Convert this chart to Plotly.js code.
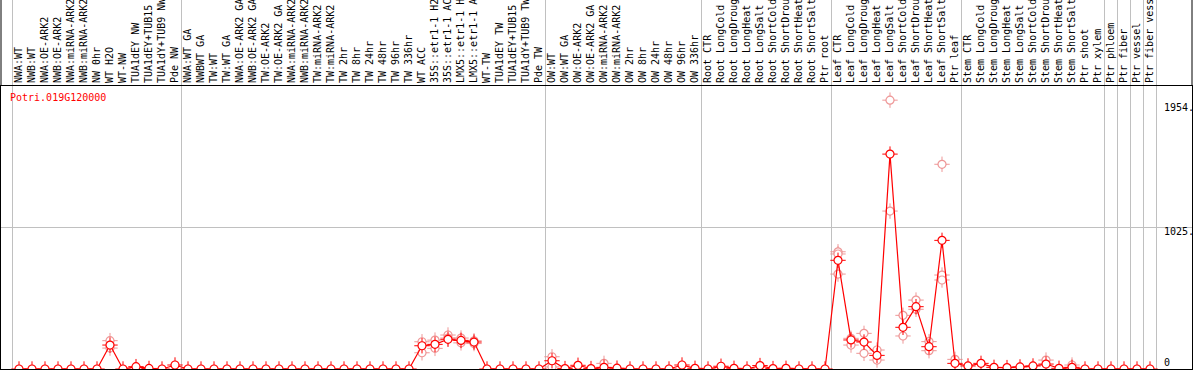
<!DOCTYPE html>
<html>
<head>
<meta charset="utf-8">
<script src="https://cdn.plot.ly/plotly-3.0.1.min.js"></script>
<style>
  html, body { margin: 0; padding: 0; background: #fff; }
  #chart { width: 1194px; height: 370px; }
</style>
</head>
<body>
<div id="chart"></div>
<script>
// ---- data ----
const geneId = "Potri.019G120000";

const categories = [
  "NWA:WT","NWB:WT","NWA:OE-ARK2","NWB:OE-ARK2","NWA:miRNA-ARK2","NWB:miRNA-ARK2","NW 0hr","WT H2O","WT-NW",
  "TUA1dEY NW","TUA1dEY+TUB15","TUA1dY+TUB9 NW","Pde NW",
  "NWA:WT GA","NWBWT GA","TW:WT","TW:WT GA","NWA:OE-ARK2 GA","NWB:OE-ARK2 GA","TW:OE-ARK2","TW:OE-ARK2 GA",
  "NWA:miRNA-ARK2","NWB:miRNA-ARK2","TW:miRNA-ARK2","TW:miRNA-ARK2","TW 2hr","TW 8hr","TW 24hr","TW 48hr","TW 96hr","TW 336hr",
  "WT ACC","35S::etr1-1 H2","35S::etr1-1 AC","LMX5::etr1-1 H","LMX5::etr1-1 A","WT-TW","TUA1dEY TW","TUA1dEY+TUB15","TUA1dY+TUB9 TW","Pde TW",
  "OW:WT","OW:WT GA","OW:OE-ARK2","OW:OE-ARK2 GA","OW:miRNA-ARK2","OW:miRNA-ARK2","OW 2hr","OW 8hr","OW 24hr","OW 48hr","OW 96hr","OW 336hr",
  "Root CTR","Root LongCold","Root LongDroug","Root LongHeat","Root LongSalt","Root ShortCold","Root ShortDrou","Root ShortHeat","Root ShortSalt","Ptr root",
  "Leaf CTR","Leaf LongCold","Leaf LongDroug","Leaf LongHeat","Leaf LongSalt","Leaf ShortCold","Leaf ShortDrou","Leaf ShortHeat","Leaf ShortSalt","Ptr leaf",
  "Stem CTR","Stem LongCold","Stem LongDroug","Stem LongHeat","Stem LongSalt","Stem ShortCold","Stem ShortDrou","Stem ShortHeat","Stem ShortSalt",
  "Ptr shoot","Ptr xylem","Ptr phloem","Ptr fiber","Ptr vessel","Ptr fiber vess"
];

const meanValues = [
  0,0,0,0,0,0,0,174,0,
  17,4,0,29,
  0,0,0,0,0,0,0,0,
  0,0,0,0,0,0,0,0,0,0,
  169,179,216,208,196,0,0,0,0,0,
  60,3,27,3,12,6,0,0,0,0,29,5,
  0,20,5,0,25,3,5,0,0,0,
  790,211,196,99,1562,303,453,162,935,41,
  22,41,12,10,15,22,36,5,12,
  0,0,0,0,0,0
];

// individual replicate values (only those visible apart from the mean)
const replicateIndex = [7,7, 31,31, 32,32, 33,33, 34,34, 35,35, 41,41, 45,
  63,63,63, 64,64, 65,65, 66,66, 67,67, 68,68, 69,69, 70,70, 71,71,71, 72, 79, 81];
const replicateValues = [206,152, 198,118, 210,150, 247,225, 225,190, 205,185, 89,15, 41,
  852,836,690, 223,174, 259,114, 138,65, 1954,1148, 390,240, 501,434, 199,133, 1488,683,647, 70, 65, 29];

// group separators (between categories) and y labels
const separatorsAfter = [-1, 12, 40, 52, 62, 72, 83, 84, 85, 86, 87];
const yLabelValues = [1954, 1025, 0];
const yLabelText = ["1954.", "1025.", "0"];

// ---- layout constants ----
const W = 1194, H = 370;
const mL = 1, mR = 2, mT = 86, mB = 1;
const plotW = W - mL - mR, plotH = H - mT - mB;
const xRange = [-18/13, 1173/13];
const yRange = [0, 2057];
const mono = "DejaVu Sans Mono, Liberation Mono, monospace";
const red = "#ff0000";
const pink = "rgba(236,140,140,0.9)";

const xs = categories.map((_, i) => i);

const traces = [
  { x: replicateIndex, y: replicateValues, type: "scatter", mode: "markers",
    marker: { symbol: "cross-thin-open", size: 11, color: pink, line: { color: pink, width: 1 } }, hoverinfo: "skip" },
  { x: replicateIndex, y: replicateValues, type: "scatter", mode: "markers",
    marker: { symbol: "circle", size: 8, color: "#ffffff", line: { color: pink, width: 1.2 } } },
  { x: xs, y: meanValues, type: "scatter", mode: "markers",
    marker: { symbol: "cross-thin-open", size: 11, color: red, line: { color: red, width: 1 } }, hoverinfo: "skip" },
  { x: xs, y: meanValues, type: "scatter", mode: "lines+markers", text: categories,
    line: { color: red, width: 1.2 },
    marker: { symbol: "circle", size: 8, color: "#ffffff", line: { color: red, width: 1.2 } } }
];

const topExt = 1 + mT / plotH;
const shapes = [];
separatorsAfter.forEach(s => {
  shapes.push({ type: "line", xref: "x", yref: "paper", x0: s + 0.5, x1: s + 0.5, y0: 0, y1: topExt,
    line: { color: "#c0c0c0", width: 1 }, layer: "below" });
});
// outer borders through the label band
shapes.push({ type: "line", xref: "paper", yref: "paper", x0: 0, x1: 0, y0: 1, y1: topExt + 0.01,
  line: { color: "#000", width: 1 } });
shapes.push({ type: "line", xref: "paper", yref: "paper", x0: 1, x1: 1, y0: 1, y1: topExt + 0.01,
  line: { color: "#000", width: 1 } });

const annotations = [
  { xref: "paper", yref: "paper", x: (8 - mL) / plotW, y: (369 - 97) / plotH, xanchor: "left", yanchor: "middle",
    text: geneId, showarrow: false, font: { family: mono, size: 10, color: red } }
];
const yShift = [-7, -4, 7];
yLabelValues.forEach((v, i) => {
  annotations.push({ xref: "paper", yref: "y", x: (1162 - mL) / plotW, y: v, xanchor: "left", yanchor: "middle",
    yshift: yShift[i], text: yLabelText[i], showarrow: false, font: { family: mono, size: 10, color: "#000" } });
});

const layout = {
  width: W, height: H,
  margin: { l: mL, r: mR, t: mT, b: mB, pad: 0 },
  paper_bgcolor: "#fff", plot_bgcolor: "#fff",
  showlegend: false,
  font: { family: mono, size: 10, color: "#000" },
  xaxis: {
    side: "top", range: xRange, tickmode: "array", tickvals: xs, ticktext: categories,
    tickangle: -90, ticks: "", showgrid: false, zeroline: false,
    showline: true, linecolor: "#000", linewidth: 1, mirror: true,
    tickfont: { family: mono, size: 10, color: "#000" }, automargin: false
  },
  yaxis: {
    range: yRange, tickmode: "array", tickvals: [1025], showticklabels: false, ticks: "",
    showgrid: true, gridcolor: "#c0c0c0", gridwidth: 1, zeroline: false,
    showline: true, linecolor: "#000", linewidth: 1, mirror: true, automargin: false
  },
  shapes: shapes,
  annotations: annotations
};

Plotly.newPlot("chart", traces, layout, { staticPlot: true, displayModeBar: false });
</script>
</body>
</html>
